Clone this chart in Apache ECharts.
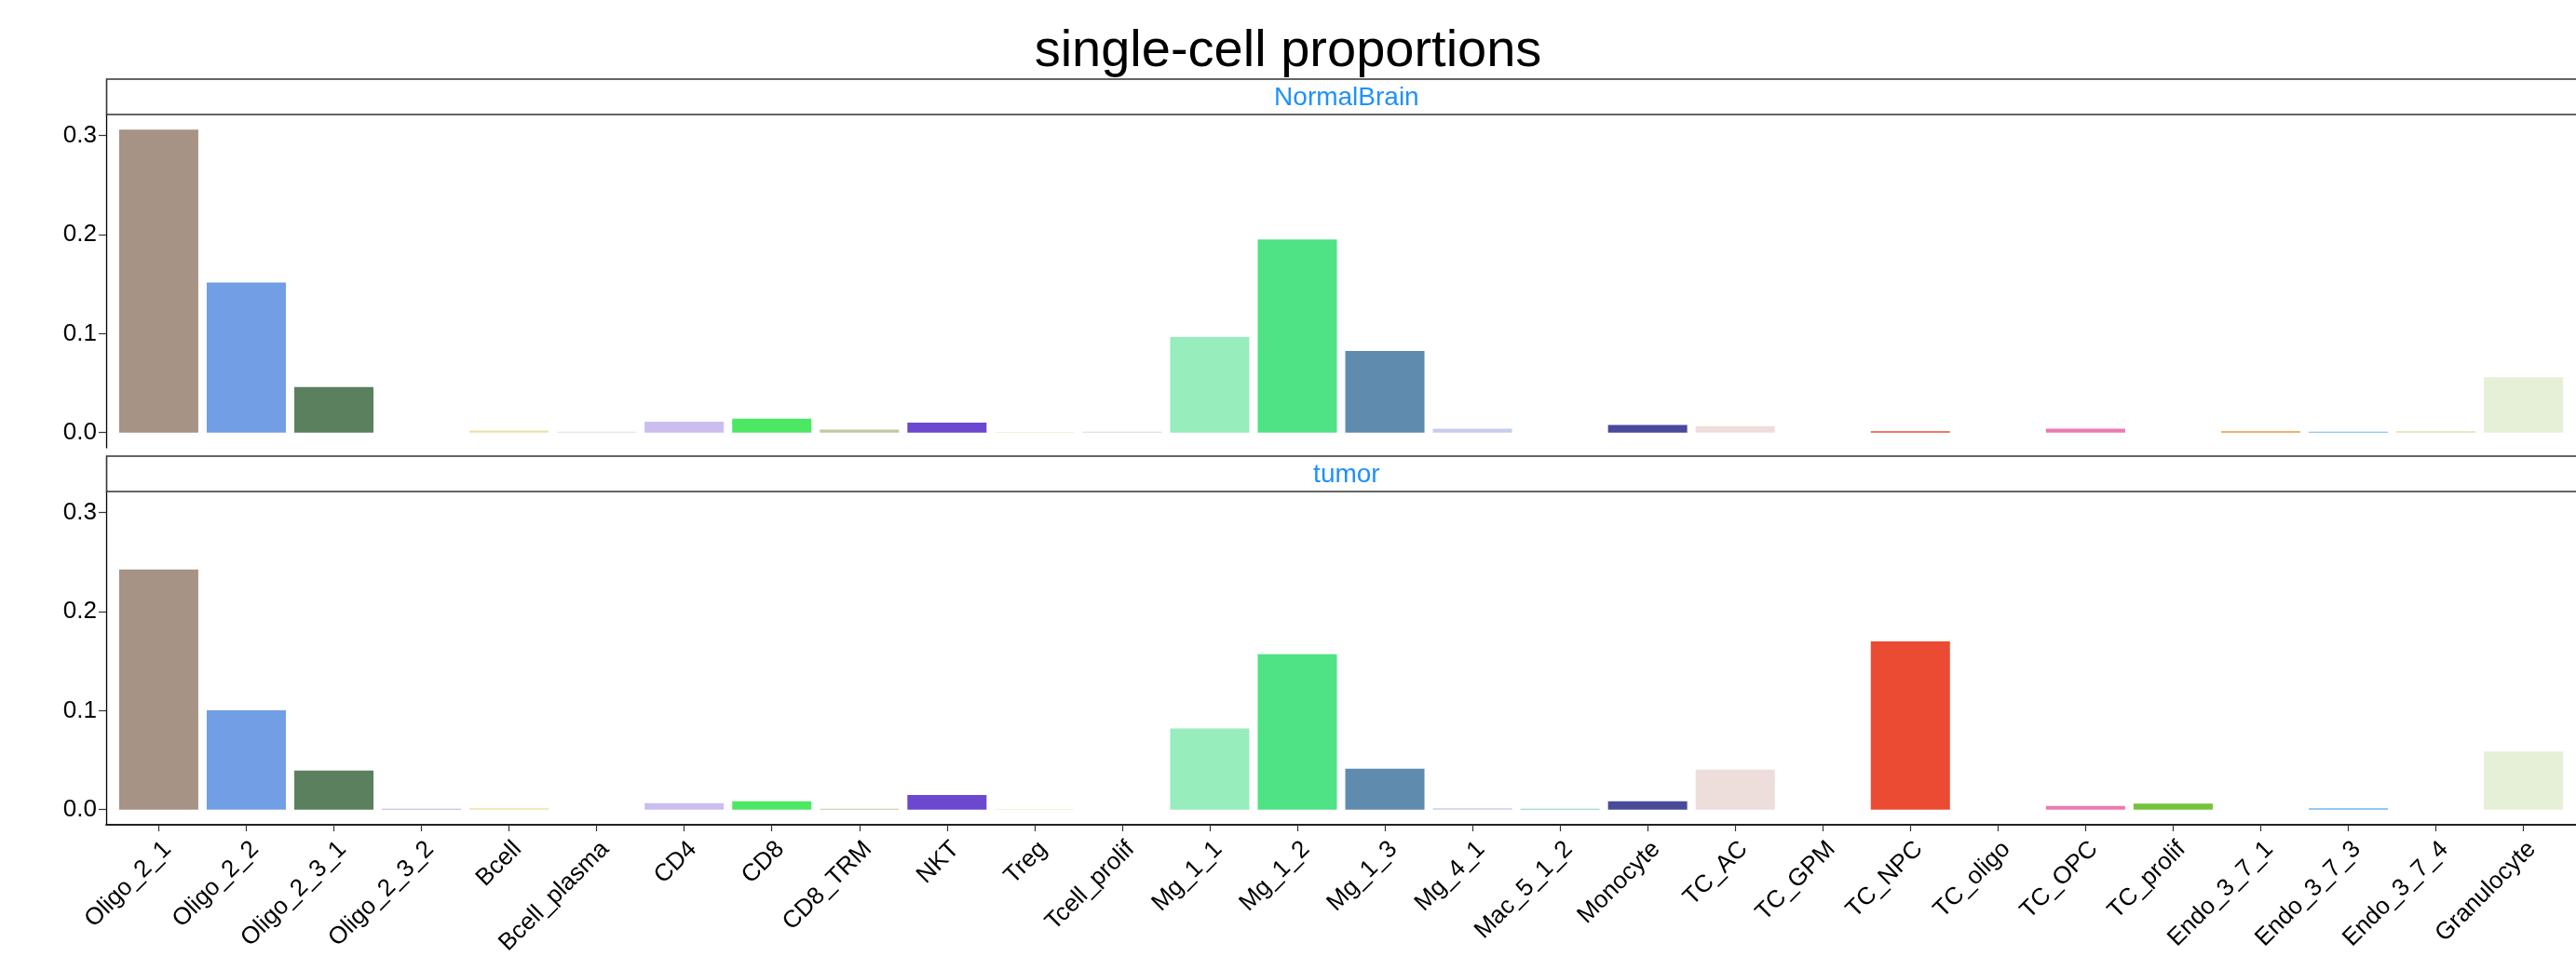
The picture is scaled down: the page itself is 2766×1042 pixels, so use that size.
<!DOCTYPE html>
<html>
<head>
<meta charset="utf-8">
<script src="https://cdn.jsdelivr.net/npm/echarts@6/dist/echarts.min.js"></script>
<style>
  html, body { margin: 0; padding: 0; background: #fff; }
  #chart { width: 2766px; height: 1042px; }
</style>
</head>
<body>
<div id="chart"></div>
<script>
// ---------------- data ----------------
const categories = [
  'Oligo_2_1','Oligo_2_2','Oligo_2_3_1','Oligo_2_3_2','Bcell','Bcell_plasma',
  'CD4','CD8','CD8_TRM','NKT','Treg','Tcell_prolif',
  'Mg_1_1','Mg_1_2','Mg_1_3','Mg_4_1','Mac_5_1_2','Monocyte',
  'TC_AC','TC_GPM','TC_NPC','TC_oligo','TC_OPC','TC_prolif',
  'Endo_3_7_1','Endo_3_7_3','Endo_3_7_4','Granulocyte'
];
const normalBrain = [
  0.306, 0.1516, 0.046, 0, 0.002, 0.001,
  0.011, 0.014, 0.003, 0.010, 0.0008, 0.001,
  0.0967, 0.195, 0.0826, 0.004, 0, 0.0078,
  0.0066, 0, 0.0015, 0, 0.004, 0,
  0.0015, 0.001, 0.0015, 0.056
];
const tumor = [
  0.2426, 0.1004, 0.0395, 0.001, 0.0015, 0,
  0.0066, 0.0085, 0.001, 0.0148, 0.0008, 0,
  0.082, 0.157, 0.0414, 0.0015, 0.001, 0.0085,
  0.0405, 0, 0.170, 0, 0.0038, 0.006,
  0, 0.0015, 0, 0.0587
];
const barColors = [
  '#A69385','#729EE6','#5A805E','#BFB0DE','#EDE2A8','#DDE2E2',
  '#CBBEEF','#4CE763','#C5C6A2','#6B48CF','#F3EBD2','#D6D5E6',
  '#98EDBC','#4FE385','#5F8BAE','#C8CCEC','#8DD1B1','#4A4A9B',
  '#EDDEDC','#B0B0B0','#EC4B33','#A0A0A0','#EB7AB2','#75C23B',
  '#E8973F','#70B9E7','#DDE2A8','#E5F0D7'
];
const panelNames = ['NormalBrain', 'tumor'];
const yTicks = [0, 0.1, 0.2, 0.3];
const titleText = 'single-cell proportions';

// ---------------- layout ----------------
const FONT = '"Liberation Sans", Arial, Helvetica, sans-serif';
const panelLeft = 114;
const unit = 94.46;                     // px per category step
const panelWidth = unit * (categories.length - 1 + 1.2);
const panelHeight = 358;
const panelTops = [123, 528];
const stripH = 38;
const barWidth = unit * 0.9;

const dataMax = Math.max(...normalBrain, ...tumor);
const yMin = -0.05 * dataMax, yMax = 1.05 * dataMax;

const chart = echarts.init(document.getElementById('chart'), null, { renderer: 'canvas' });

const grids = [], xAxes = [], yAxes = [], series = [], graphics = [];
const allData = [normalBrain, tumor];

panelTops.forEach((top, k) => {
  grids.push({ left: panelLeft, top: top, width: panelWidth, height: panelHeight, containLabel: false });
  const isBottom = k === panelTops.length - 1;
  xAxes.push({
    gridIndex: k, type: 'value', min: -0.6, max: categories.length - 1 + 0.6,
    splitLine: { show: false },
    axisLine: { show: isBottom, onZero: false, lineStyle: { color: '#222', width: 1.8 } },
    axisTick: { show: isBottom, length: 7, customValues: categories.map((_, i) => i),
                lineStyle: { color: '#333', width: 1.2 } },
    axisLabel: {
      show: isBottom, customValues: categories.map((_, i) => i),
      formatter: v => categories[Math.round(v)],
      rotate: 45, align: 'right', verticalAlign: 'top', margin: 13,
      fontSize: 26, color: '#000', fontFamily: FONT
    }
  });
  yAxes.push({
    gridIndex: k, type: 'value', min: yMin, max: yMax,
    splitLine: { show: false },
    axisLine: { show: true, onZero: false, lineStyle: { color: '#000', width: 1.3 } },
    axisTick: { show: true, length: 8, customValues: yTicks, lineStyle: { color: '#333', width: 1.2 } },
    axisLabel: {
      customValues: yTicks, formatter: v => v.toFixed(1),
      margin: 10, fontSize: 26, color: '#000', fontFamily: FONT
    }
  });
  series.push({
    type: 'bar', name: panelNames[k], xAxisIndex: k, yAxisIndex: k,
    barWidth: barWidth,
    data: allData[k].map((v, i) => [i, v]),
    itemStyle: { color: p => barColors[p.dataIndex] },
    animation: false, silent: true
  });
  // facet strip
  const sTop = top - stripH;
  graphics.push({
    type: 'rect', z: 10,
    shape: { x: panelLeft + 0.5, y: sTop, width: panelWidth + 10, height: stripH },
    style: { fill: '#fff', stroke: '#333', lineWidth: 1.6 }
  });
  graphics.push({
    type: 'text', z: 11,
    x: panelLeft + panelWidth / 2, y: sTop + stripH / 2 + 1,
    style: { text: panelNames[k], fill: '#1E90FF', font: '28px ' + FONT,
             textAlign: 'center', textVerticalAlign: 'middle' }
  });
});

chart.setOption({
  animation: false,
  backgroundColor: '#fff',
  title: {
    text: titleText, left: 'center', top: 23,
    textStyle: { fontSize: 56, fontWeight: 'normal', color: '#000', fontFamily: FONT }
  },
  grid: grids,
  xAxis: xAxes,
  yAxis: yAxes,
  series: series,
  graphic: graphics
});
</script>
</body>
</html>
